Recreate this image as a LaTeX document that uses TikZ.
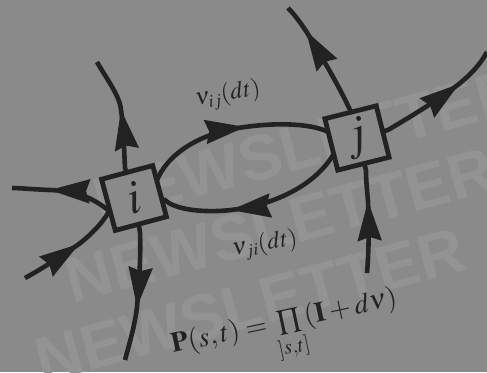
\documentclass[tikz,border=0pt]{standalone}
\usepackage{amsmath}
\usepackage{mathptmx}
\usepackage{fontspec}
\usetikzlibrary{calc}
\newfontfamily\wmfont{Liberation Sans}
\definecolor{paper}{RGB}{138,138,138}
\definecolor{wmark}{RGB}{147,147,147}
\definecolor{ink}{RGB}{34,34,34}
\pgfdeclarelayer{paperlayer}
\pgfdeclarelayer{linelayer}
\pgfsetlayers{paperlayer,linelayer,main}
\newcommand{\arrowhd}[2]{\fill[ink] (#1) -- ($(#1)!42pt!17:(#2)$) -- ($(#1)!36pt!(#2)$) -- ($(#1)!42pt!-17:(#2)$) -- cycle;}
\tikzset{
  flow/.style={draw=ink, line width=4.6pt},
  statebox/.style={draw=ink, fill=paper, line width=4.8pt, minimum size=53pt,
      inner sep=0pt, text=ink, font=\fontsize{48}{48}\selectfont},
  lbl/.style={text=ink, inner sep=0pt, font=\fontsize{24}{26}\selectfont},
  wm/.style={text=wmark, inner sep=0pt, font=\wmfont\bfseries\fontsize{64}{64}\selectfont},
}
\begin{document}
\begin{tikzpicture}[x=1pt,y=-1pt]
\useasboundingbox (0,0) rectangle (487,372);
\begin{pgfonlayer}{paperlayer}
  \fill[paper] (0,0) rectangle (487,372);
  \node[wm, rotate=15] (wm1) at (308,145) {NEWSLETTER};
  \node[wm, rotate=15] (wm2) at (280,225) {NEWSLETTER};
  \node[wm, rotate=15] (wm3) at (250,305) {NEWSLETTER};
\end{pgfonlayer}

\node[statebox, rotate=15] (i) at (134,198) {$i$};
\node[statebox, rotate=14] (j) at (357,138) {$j$};

\node[lbl, rotate=10] (nij) at (228,95) {$\nu_{ij}(dt)$};
\node[lbl, rotate=10] (nji) at (265,245) {$\nu_{ji}(dt)$};
\node[lbl, rotate=12, font=\fontsize{28}{30}\selectfont] (formula) at (287,335)
  {$\mathbf{P}(s,t)=\prod\limits_{]s,t]}(\mathbf{I}+d\nu)$};

% free ends
\coordinate (itop) at (97,62);
\coordinate (ibot) at (125,360);
\coordinate (ilu) at (12,188);
\coordinate (ill) at (25,278);
\coordinate (jtop) at (288,8);
\coordinate (jright) at (487,52);
\coordinate (jbot) at (367,273);
% arrow tips and points behind them
\coordinate (t1) at (121,110); \coordinate (b1) at (124,130);
\coordinate (t2) at (137,307); \coordinate (b2) at (139,285);
\coordinate (t3) at (50,190);  \coordinate (b3) at (80,191);
\coordinate (t4) at (79,244);  \coordinate (b4) at (60,257);
\coordinate (t5) at (245,127); \coordinate (b5) at (205,132);
\coordinate (t6) at (231,210); \coordinate (b6) at (275,205);
\coordinate (t7) at (306,31);  \coordinate (b7) at (322,57);
\coordinate (t8) at (459,84);  \coordinate (b8) at (435,102);
\coordinate (t9) at (368,201); \coordinate (b9) at (369,225);

\begin{pgfonlayer}{linelayer}
  \draw[flow] (i.center) -- (125,168) .. controls (124,150) and (b1) .. (t1)
              .. controls (120,96) and (106,78) .. (itop);
  \draw[flow] (i.center) -- (140,232) .. controls (141,255) and (b2) .. (t2)
              .. controls (135,325) and (129,345) .. (ibot);
  \draw[flow] (i.center) -- (108,210) .. controls (95,200) and (b3) .. (t3)
              .. controls (35,189.5) and (20,188) .. (ilu);
  \draw[flow] (ill) .. controls (40,270) and (b4) .. (t4)
              .. controls (92,234) and (103,222) .. (108,213) -- (i.center);
  \draw[flow] (i.center) -- (157,180) .. controls (170,150) and (b5) .. (t5)
              .. controls (280,122) and (315,124) .. (330,133) -- (j.center);
  \draw[flow] (j.center) -- (333,155) .. controls (315,185) and (b6) .. (t6)
              .. controls (205,213) and (175,210) .. (165,200) -- (i.center);
  \draw[flow] (j.center) -- (350,110) .. controls (340,88) and (b7) .. (t7)
              .. controls (300,22) and (294,14) .. (jtop);
  \draw[flow] (j.center) -- (388,130) .. controls (410,117) and (b8) .. (t8)
              .. controls (470,75) and (480,65) .. (jright);
  \draw[flow] (jbot) .. controls (369,250) and (b9) .. (t9)
              .. controls (367,190) and (366,180) .. (366,170) -- (j.center);
  \arrowhd{t1}{b1} \arrowhd{t2}{b2} \arrowhd{t3}{b3}
  \arrowhd{t4}{b4} \arrowhd{t5}{b5} \arrowhd{t6}{b6}
  \arrowhd{t7}{b7} \arrowhd{t8}{b8} \arrowhd{t9}{b9}
\end{pgfonlayer}
\end{tikzpicture}
\end{document}
